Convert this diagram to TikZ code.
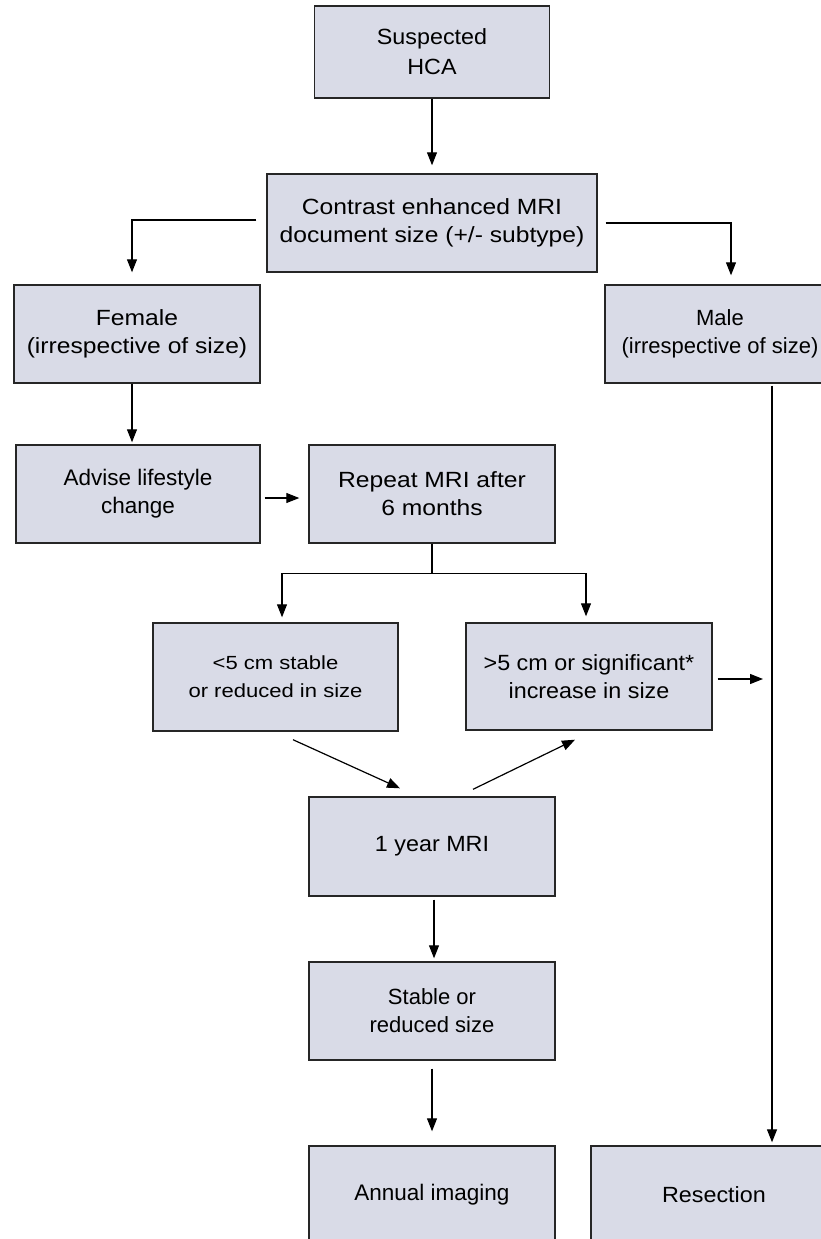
\documentclass[tikz,border=0pt]{standalone}
\usepackage{fontspec}
\setmainfont{Liberation Sans}
\newfontfamily\fA[FakeStretch=1.12]{Liberation Sans}
\newfontfamily\fB[FakeStretch=1.06]{Liberation Sans}
\newfontfamily\fC[FakeStretch=1.16]{Liberation Sans}
\usetikzlibrary{arrows.meta,calc}
\definecolor{boxfill}{HTML}{D9DBE7}
\definecolor{boxline}{HTML}{262626}
\tikzset{
  stepbox/.style={draw=boxline, fill=boxfill, line width=1.4pt, align=center,
    minimum width=246pt, minimum height=98pt, inner sep=0pt,
    font=\fontsize{22}{28}\selectfont, text=black},
  arr/.style={line width=1.2pt, -{Triangle[length=13pt,width=10pt]}},
  ln/.style={line width=1.2pt},
}
\begin{document}
\begin{tikzpicture}[x=1pt,y=-1pt]
\useasboundingbox (0,0) rectangle (821,1239);
\clip (0,0) rectangle (821,1239);
\fill[white] (0,0) rectangle (821,1239);

\node[stepbox, minimum width=235pt, minimum height=92pt, font=\fontsize{22}{30}\selectfont\fB] (sus) at (432,52) {Suspected\\HCA};
\node[stepbox, minimum width=330pt, font=\fontsize{22}{28}\selectfont\fA] (con) at (432,223) {Contrast enhanced MRI\\document size (+/- subtype)};
\node[stepbox, font=\fontsize{22}{28}\selectfont\fA] (fem) at (137,334) {Female\\(irrespective of size)};
\node[stepbox, font=\fontsize{22}{28}\selectfont] (male) at (728,334) {\hspace*{-16pt}Male\\\hspace*{-16pt}(irrespective of size)};
\node[stepbox, minimum width=244pt, font=\fontsize{22.5}{28}\selectfont] (adv) at (138,494) {Advise lifestyle\\change};
\node[stepbox, font=\fontsize{22}{28}\selectfont\fA] (rep) at (432,494) {Repeat MRI after\\6 months};
\node[stepbox, minimum width=245pt, minimum height=108pt, font=\fontsize{19}{28}\selectfont\fC] (lt5) at (275.5,677) {<5 cm stable\\or reduced in size};
\node[stepbox, minimum height=107pt, font=\fontsize{22}{28}\selectfont\fB] (gt5) at (589,676.5) {>5 cm or significant*\\increase in size};
\node[stepbox, minimum height=99pt, font=\fontsize{22}{28}\selectfont\fB] (yr) at (432,846.5) {1 year MRI};
\node[stepbox] (stab) at (432,1011) {Stable or\\reduced size};
\node[stepbox, font=\fontsize{22.5}{28}\selectfont] (ann) at (432,1195) {Annual imaging};
\node[stepbox, font=\fontsize{22}{28}\selectfont\fB] (res) at (714,1195) {Resection};

\coordinate (mx) at (772,0);

\draw[arr] (sus.south) -- ([yshift=8pt]con.north);
\draw[arr] ([xshift=-10pt,yshift=3pt]con.west) -| ([xshift=-5pt,yshift=12pt]fem.north);
\draw[arr] ([xshift=8pt]con.east) -| ([xshift=3pt,yshift=9pt]male.north);
\draw[arr] ([xshift=-5pt]fem.south) -- ([xshift=-6pt,yshift=2pt]adv.north);
\draw[arr] ([xshift=4pt,yshift=-4pt]adv.east) -- ([xshift=-9pt,yshift=-4pt]rep.west);
\draw[ln] (rep.south) -- ([yshift=-30pt]rep.south) coordinate (split);
\draw[arr] (split) -| ([xshift=6.5pt,yshift=5pt]lt5.north);
\draw[arr] (split) -| ([xshift=-3pt,yshift=6pt]gt5.north);
\draw[arr] ([xshift=5pt,yshift=-2.5pt]gt5.east) -- ([xshift=-9pt,yshift=-2.5pt]gt5.east -| mx);
\draw[arr] ([yshift=-2pt]male.south -| mx) -- ([yshift=3pt]res.north -| mx);
\draw[arr] ([xshift=17.5pt,yshift=-8pt]lt5.south) -- ([xshift=-32pt,yshift=8pt]yr.north);
\draw[arr] ([xshift=41pt,yshift=7pt]yr.north) -- ([xshift=-14pt,yshift=-9pt]gt5.south);
\draw[arr] ([xshift=2pt,yshift=-3pt]yr.south) -- ([xshift=2pt,yshift=3pt]stab.north);
\draw[arr] ([yshift=-8pt]stab.south) -- ([yshift=14pt]ann.north);
\end{tikzpicture}
\end{document}
